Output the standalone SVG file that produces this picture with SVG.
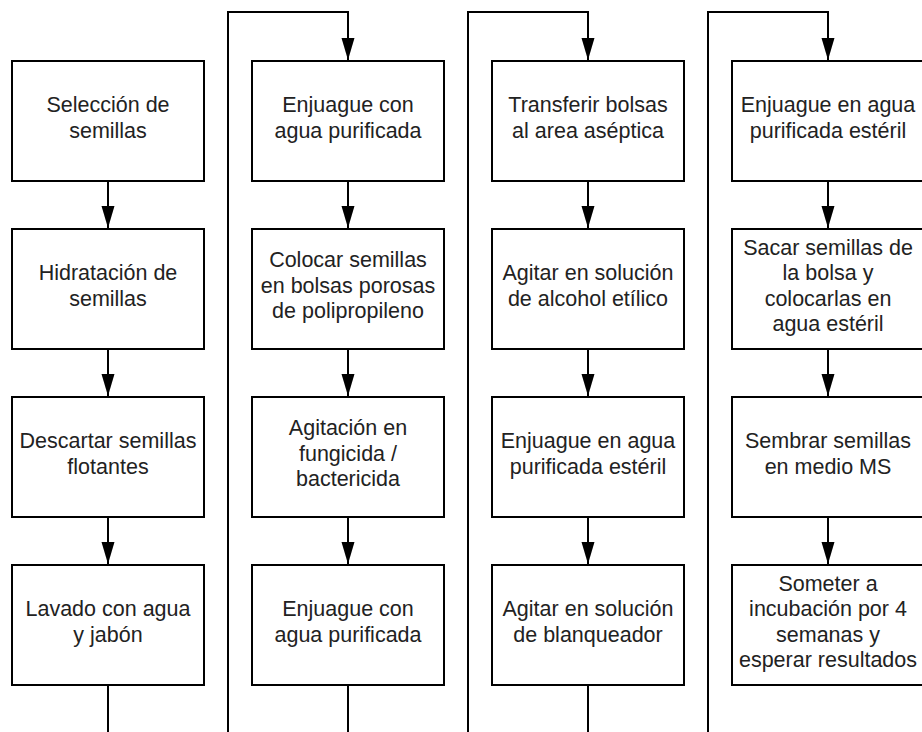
<svg xmlns="http://www.w3.org/2000/svg" width="922" height="732" viewBox="0 0 922 732">
<style>
.box{fill:#fff;stroke:#000;stroke-width:2}
.c{fill:none;stroke:#000;stroke-width:2}
text{font-family:"Liberation Sans",Arial,sans-serif;font-size:21.5px;fill:#222;text-anchor:middle}
</style>
<defs>
<marker id="ah" markerUnits="userSpaceOnUse" markerWidth="22" markerHeight="14" refX="22" refY="7" orient="auto">
<path d="M0,0.5 L22,7 L0,13.5 z" fill="#000"/>
</marker>
</defs>
<rect width="922" height="732" fill="#fff"/>
<g id="connectors">
<path class="c" d="M108,182 V228" marker-end="url(#ah)"/>
<path class="c" d="M108,350 V396" marker-end="url(#ah)"/>
<path class="c" d="M108,518 V564" marker-end="url(#ah)"/>
<path class="c" d="M108,686 V740"/>
<path class="c" d="M228,740 V12 H348 V60" marker-end="url(#ah)"/>
<path class="c" d="M348,182 V228" marker-end="url(#ah)"/>
<path class="c" d="M348,350 V396" marker-end="url(#ah)"/>
<path class="c" d="M348,518 V564" marker-end="url(#ah)"/>
<path class="c" d="M348,686 V740"/>
<path class="c" d="M468,740 V12 H588 V60" marker-end="url(#ah)"/>
<path class="c" d="M588,182 V228" marker-end="url(#ah)"/>
<path class="c" d="M588,350 V396" marker-end="url(#ah)"/>
<path class="c" d="M588,518 V564" marker-end="url(#ah)"/>
<path class="c" d="M588,686 V740"/>
<path class="c" d="M708,740 V12 H828 V60" marker-end="url(#ah)"/>
<path class="c" d="M828,182 V228" marker-end="url(#ah)"/>
<path class="c" d="M828,350 V396" marker-end="url(#ah)"/>
<path class="c" d="M828,518 V564" marker-end="url(#ah)"/>
</g>
<g id="n1"><rect class="box" x="12" y="61" width="192" height="120"/><text x="108" y="112">Selección de</text><text x="108" y="137.5">semillas</text></g>
<g id="n2"><rect class="box" x="12" y="229" width="192" height="120"/><text x="108" y="280">Hidratación de</text><text x="108" y="305.5">semillas</text></g>
<g id="n3"><rect class="box" x="12" y="397" width="192" height="120"/><text x="108" y="448">Descartar semillas</text><text x="108" y="473.5">flotantes</text></g>
<g id="n4"><rect class="box" x="12" y="565" width="192" height="120"/><text x="108" y="616">Lavado con agua</text><text x="108" y="641.5">y jabón</text></g>
<g id="n5"><rect class="box" x="252" y="61" width="192" height="120"/><text x="348" y="112">Enjuague con</text><text x="348" y="137.5">agua purificada</text></g>
<g id="n6"><rect class="box" x="252" y="229" width="192" height="120"/><text x="348" y="267">Colocar semillas</text><text x="348" y="292.5">en bolsas porosas</text><text x="348" y="318">de polipropileno</text></g>
<g id="n7"><rect class="box" x="252" y="397" width="192" height="120"/><text x="348" y="435">Agitación en</text><text x="348" y="460.5">fungicida /</text><text x="348" y="486">bactericida</text></g>
<g id="n8"><rect class="box" x="252" y="565" width="192" height="120"/><text x="348" y="616">Enjuague con</text><text x="348" y="641.5">agua purificada</text></g>
<g id="n9"><rect class="box" x="492" y="61" width="192" height="120"/><text x="588" y="112">Transferir bolsas</text><text x="588" y="137.5">al area aséptica</text></g>
<g id="n10"><rect class="box" x="492" y="229" width="192" height="120"/><text x="588" y="280">Agitar en solución</text><text x="588" y="305.5">de alcohol etílico</text></g>
<g id="n11"><rect class="box" x="492" y="397" width="192" height="120"/><text x="588" y="448">Enjuague en agua</text><text x="588" y="473.5">purificada estéril</text></g>
<g id="n12"><rect class="box" x="492" y="565" width="192" height="120"/><text x="588" y="616">Agitar en solución</text><text x="588" y="641.5">de blanqueador</text></g>
<g id="n13"><rect class="box" x="732" y="61" width="192" height="120"/><text x="828" y="112">Enjuague en agua</text><text x="828" y="137.5">purificada estéril</text></g>
<g id="n14"><rect class="box" x="732" y="229" width="192" height="120"/><text x="828" y="254.5">Sacar semillas de</text><text x="828" y="280">la bolsa y</text><text x="828" y="305.5">colocarlas en</text><text x="828" y="331">agua estéril</text></g>
<g id="n15"><rect class="box" x="732" y="397" width="192" height="120"/><text x="828" y="448">Sembrar semillas</text><text x="828" y="473.5">en medio MS</text></g>
<g id="n16"><rect class="box" x="732" y="565" width="192" height="120"/><text x="828" y="590.5">Someter a</text><text x="828" y="616">incubación por 4</text><text x="828" y="641.5">semanas y</text><text x="828" y="667">esperar resultados</text></g>
</svg>
